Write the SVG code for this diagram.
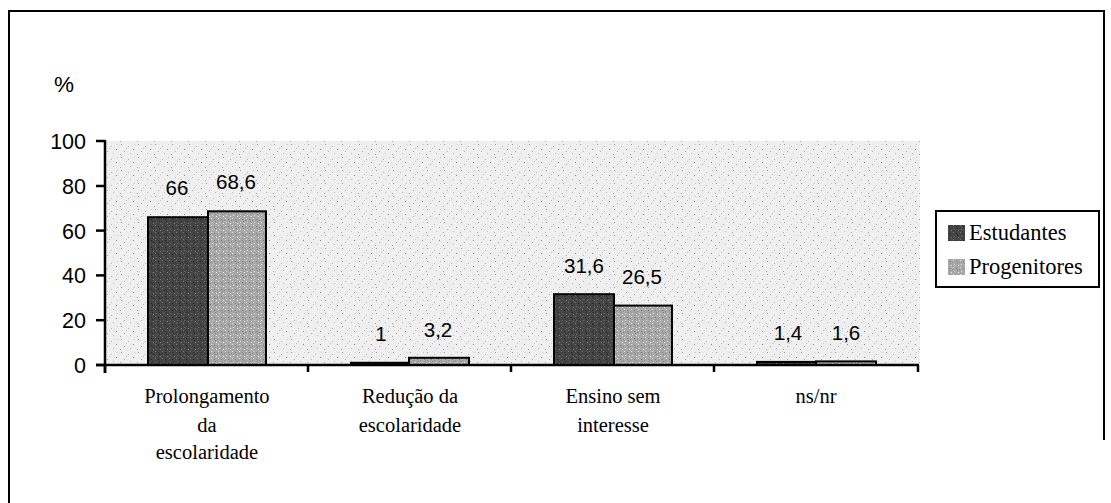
<svg xmlns="http://www.w3.org/2000/svg" width="1111" height="503" viewBox="0 0 1111 503">
<style>
.sans{font-family:"Liberation Sans",Arial,sans-serif;fill:#000}
.serif{font-family:"Liberation Serif","DejaVu Serif","Times New Roman",serif;fill:#000}
.tick{font-size:21.5px;text-anchor:end}
.val{font-size:20.5px;text-anchor:middle}
.cat{font-size:20.5px;text-anchor:middle}
.leg{font-size:22.5px}
.axis{stroke:#000;stroke-width:2.5;fill:none}
.bar{stroke:#000;stroke-width:2}
.est{fill:url(#pEst)}
.pro{fill:url(#pPro)}
</style>
<defs>
<pattern id="pBg" width="17" height="13" patternUnits="userSpaceOnUse">
<rect width="17" height="13" fill="#efefef"/>
<rect x="2" y="1" width="1" height="1" fill="#999"/>
<rect x="9" y="3" width="1" height="1" fill="#b4b4b4"/>
<rect x="14" y="6" width="1" height="1" fill="#888"/>
<rect x="5" y="8" width="1" height="1" fill="#aaa"/>
<rect x="11" y="10" width="1" height="1" fill="#bbb"/>
<rect x="1" y="11" width="1" height="1" fill="#a5a5a5"/>
<rect x="7" y="5" width="1" height="1" fill="#c0c0c0"/>
<rect x="15" y="1" width="1" height="1" fill="#c8c8c8"/>
</pattern>
<pattern id="pEst" width="7" height="7" patternUnits="userSpaceOnUse">
<rect width="7" height="7" fill="#444"/>
<rect x="1" y="1" width="1" height="1" fill="#777"/>
<rect x="4" y="2" width="1" height="1" fill="#222"/>
<rect x="2" y="5" width="1" height="1" fill="#6a6a6a"/>
<rect x="5" y="4" width="1" height="1" fill="#2a2a2a"/>
<rect x="6" y="6" width="1" height="1" fill="#808080"/>
</pattern>
<pattern id="pPro" width="7" height="7" patternUnits="userSpaceOnUse">
<rect width="7" height="7" fill="#a8a8a8"/>
<rect x="1" y="1" width="1" height="1" fill="#e0e0e0"/>
<rect x="4" y="2" width="1" height="1" fill="#777"/>
<rect x="2" y="5" width="1" height="1" fill="#ddd"/>
<rect x="5" y="4" width="1" height="1" fill="#888"/>
<rect x="6" y="6" width="1" height="1" fill="#f0f0f0"/>
<rect x="0" y="3" width="1" height="1" fill="#8a8a8a"/>
</pattern>
</defs>
<rect width="1111" height="503" fill="#fff"/>
<g id="frame" fill="none" stroke="#000" stroke-width="2">
<polyline points="9,503 9,11 1104,11 1104,440"/>
</g>
<g id="plot-area">
<rect x="106" y="141" width="814" height="223" fill="url(#pBg)"/>
</g>
<g id="y-axis">
<text class="sans" x="64" y="92" font-size="22.5" text-anchor="middle">%</text>
<line class="axis" x1="105" y1="140" x2="105" y2="373"/>
<line class="axis" x1="96" y1="141" x2="105" y2="141"/>
<line class="axis" x1="96" y1="186" x2="105" y2="186"/>
<line class="axis" x1="96" y1="230.6" x2="105" y2="230.6"/>
<line class="axis" x1="96" y1="275.4" x2="105" y2="275.4"/>
<line class="axis" x1="96" y1="320.2" x2="105" y2="320.2"/>
<line class="axis" x1="96" y1="365" x2="105" y2="365"/>
<text class="sans tick" x="86" y="149">100</text>
<text class="sans tick" x="86" y="194">80</text>
<text class="sans tick" x="86" y="238.6">60</text>
<text class="sans tick" x="86" y="283.4">40</text>
<text class="sans tick" x="86" y="328.2">20</text>
<text class="sans tick" x="86" y="373">0</text>
</g>
<g id="bars">
<rect class="bar est" x="148" y="217.2" width="60" height="147.8"/>
<rect class="bar pro" x="208" y="211.3" width="58" height="153.7"/>
<rect class="bar est" x="351" y="362.8" width="58" height="2.2"/>
<rect class="bar pro" x="409" y="357.8" width="60" height="7.2"/>
<rect class="bar est" x="554" y="294.2" width="60" height="70.8"/>
<rect class="bar pro" x="614" y="305.6" width="58" height="59.4"/>
<rect class="bar est" x="757" y="361.9" width="59" height="3.1"/>
<rect class="bar pro" x="816" y="361.4" width="60" height="3.6"/>
</g>
<g id="x-axis">
<line class="axis" x1="96" y1="365" x2="919" y2="365"/>
<line class="axis" x1="105" y1="365" x2="105" y2="373"/>
<line class="axis" x1="308" y1="365" x2="308" y2="372"/>
<line class="axis" x1="511" y1="365" x2="511" y2="372"/>
<line class="axis" x1="714" y1="365" x2="714" y2="372"/>
<line class="axis" x1="918" y1="365" x2="918" y2="372"/>
</g>
<g id="data-labels">
<text class="sans val" x="177" y="195">66</text>
<text class="sans val" x="236" y="189">68,6</text>
<text class="sans val" x="381" y="341">1</text>
<text class="sans val" x="438" y="337">3,2</text>
<text class="sans val" x="584" y="273">31,6</text>
<text class="sans val" x="642" y="284">26,5</text>
<text class="sans val" x="788" y="340">1,4</text>
<text class="sans val" x="846" y="340">1,6</text>
</g>
<g id="category-labels" font-family="'Liberation Serif','DejaVu Serif',serif">
<text class="serif cat" x="207" y="403">Prolongamento</text>
<text class="serif cat" x="207" y="431.5">da</text>
<text class="serif cat" x="207" y="459">escolaridade</text>
<text class="serif cat" x="410" y="403">Redução da</text>
<text class="serif cat" x="410" y="431.5">escolaridade</text>
<text class="serif cat" x="613" y="403">Ensino sem</text>
<text class="serif cat" x="613" y="431.5">interesse</text>
<text class="serif cat" x="816" y="403">ns/nr</text>
</g>
<g id="legend">
<rect x="936" y="211" width="163" height="76" fill="#fff" stroke="#000" stroke-width="2"/>
<rect x="948" y="225" width="17" height="16" fill="url(#pEst)"/>
<text class="serif leg" x="969" y="240">Estudantes</text>
<rect x="948" y="259" width="17" height="16" fill="url(#pPro)"/>
<text class="serif leg" x="969" y="274">Progenitores</text>
</g>
</svg>
